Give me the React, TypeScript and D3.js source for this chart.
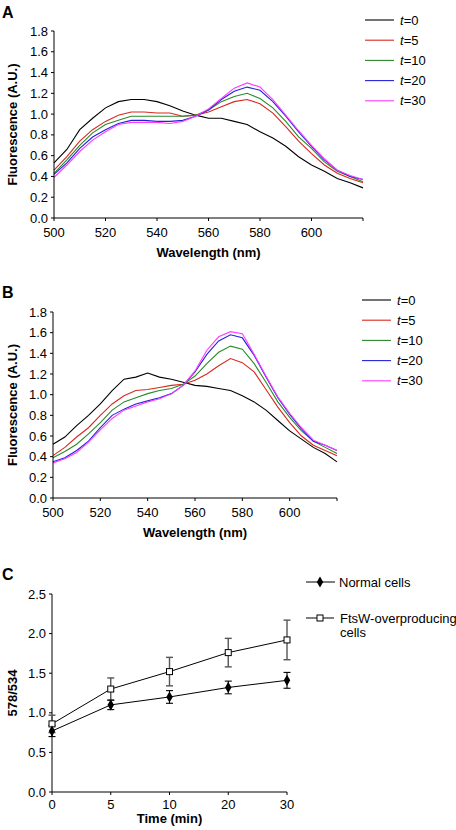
import React from "react";
import * as d3 from "d3";

const wavelengths = [500,505,510,515,520,525,530,535,540,545,550,555,560,565,570,575,580,585,590,595,600,605,610,615,620];

const A_t0 = [0.53,0.66,0.85,0.96,1.06,1.12,1.14,1.14,1.12,1.08,1.03,0.99,0.96,0.96,0.93,0.90,0.83,0.77,0.69,0.59,0.51,0.45,0.38,0.34,0.29];
const A_t5 = [0.46,0.59,0.74,0.85,0.93,0.99,1.02,1.02,1.01,1.01,0.98,0.99,1.02,1.07,1.12,1.14,1.10,1.01,0.88,0.74,0.62,0.51,0.43,0.38,0.34];
const A_t10 = [0.43,0.56,0.70,0.82,0.90,0.94,0.98,0.98,0.98,0.98,0.98,0.99,1.04,1.12,1.17,1.20,1.15,1.06,0.93,0.78,0.67,0.54,0.45,0.40,0.35];
const A_t20 = [0.42,0.53,0.67,0.78,0.85,0.91,0.94,0.94,0.93,0.93,0.94,0.98,1.04,1.14,1.22,1.26,1.23,1.12,0.98,0.83,0.69,0.56,0.46,0.40,0.37];
const A_t30 = [0.39,0.51,0.64,0.75,0.83,0.90,0.92,0.92,0.92,0.91,0.93,0.98,1.05,1.15,1.25,1.30,1.26,1.14,0.99,0.84,0.70,0.57,0.46,0.41,0.37];

const B_t0 = [0.52,0.59,0.70,0.80,0.91,1.04,1.15,1.17,1.21,1.17,1.15,1.12,1.09,1.08,1.06,1.04,0.99,0.93,0.85,0.75,0.65,0.57,0.49,0.43,0.35];
const B_t5 = [0.41,0.49,0.59,0.68,0.80,0.91,0.99,1.04,1.05,1.07,1.09,1.10,1.14,1.20,1.28,1.35,1.31,1.22,1.05,0.88,0.73,0.60,0.51,0.46,0.41];
const B_t10 = [0.39,0.45,0.52,0.62,0.73,0.85,0.93,0.97,1.01,1.04,1.06,1.10,1.18,1.30,1.41,1.47,1.44,1.30,1.12,0.93,0.78,0.65,0.55,0.49,0.43];
const B_t20 = [0.35,0.39,0.46,0.55,0.68,0.80,0.86,0.91,0.94,0.97,1.01,1.09,1.22,1.39,1.52,1.58,1.55,1.38,1.17,0.97,0.81,0.67,0.55,0.51,0.46];
const B_t30 = [0.34,0.38,0.44,0.54,0.66,0.77,0.85,0.89,0.93,0.96,1.01,1.09,1.23,1.43,1.56,1.61,1.59,1.39,1.18,0.98,0.82,0.68,0.56,0.51,0.46];

const seriesLabels = ["0", "5", "10", "20", "30"];
const seriesColors = ["#000000", "#d8281f", "#2a8a2a", "#2222dd", "#ff3cff"];

const wlTicks = [500, 520, 540, 560, 580, 600, 620];
const wlTickLabels = ["500", "520", "540", "560", "580", "600", ""];
const fluorTicks = [0, 0.2, 0.4, 0.6, 0.8, 1.0, 1.2, 1.4, 1.6, 1.8];

const times = ["0", "5", "10", "20", "30"];
const normalMean = [0.77, 1.10, 1.20, 1.32, 1.41];
const normalErr = [0.07, 0.06, 0.08, 0.08, 0.10];
const ftswMean = [0.86, 1.30, 1.52, 1.76, 1.92];
const ftswErr = [0.11, 0.14, 0.18, 0.18, 0.25];
const ratioTicks = [0, 0.5, 1.0, 1.5, 2.0, 2.5];

const FONT = "'Liberation Sans', Arial, Helvetica, sans-serif";
const FS = 13;

type SpecProps = {
  series: number[][];
  x0: number; x1: number; yTop: number; yBot: number;
  legendX: number; legendY: number;
  letter: string; letterY: number;
};

function SpectrumPanel(p: SpecProps) {
  const x = d3.scaleLinear().domain([500, 620]).range([p.x0, p.x1]);
  const y = d3.scaleLinear().domain([0, 1.8]).range([p.yBot, p.yTop]);
  const line = d3.line<number>().x((_, i) => x(wavelengths[i])).y((d) => y(d));
  return (
    <g>
      <text x={2} y={p.letterY} fontFamily={FONT} fontWeight="bold" fontSize={16}>{p.letter}</text>
      {p.series.map((s, i) => (
        <path key={i} d={line(s) || ""} fill="none" stroke={seriesColors[i]} strokeWidth={1.1} />
      ))}
      <line x1={p.x0} x2={p.x0} y1={p.yTop} y2={p.yBot} stroke="#000" strokeWidth={1} />
      <line x1={p.x0} x2={p.x1} y1={p.yBot} y2={p.yBot} stroke="#000" strokeWidth={1} />
      {fluorTicks.map((t) => (
        <g key={t}>
          <line x1={p.x0 - 3} x2={p.x0} y1={y(t)} y2={y(t)} stroke="#000" />
          <text x={p.x0 - 6} y={y(t) + 4.6} textAnchor="end" fontFamily={FONT} fontSize={FS}>{t.toFixed(1)}</text>
        </g>
      ))}
      {wlTicks.map((t, i) => (
        <g key={t}>
          <line x1={x(t)} x2={x(t)} y1={p.yBot} y2={p.yBot + 3} stroke="#000" />
          <text x={x(t)} y={p.yBot + 19} textAnchor="middle" fontFamily={FONT} fontSize={FS}>{wlTickLabels[i]}</text>
        </g>
      ))}
      <text x={(p.x0 + p.x1) / 2} y={p.yBot + 39} textAnchor="middle" fontFamily={FONT} fontWeight="bold" fontSize={FS}>Wavelength (nm)</text>
      <text transform={`translate(16.5,${(p.yTop + p.yBot) / 2}) rotate(-90)`} textAnchor="middle" fontFamily={FONT} fontWeight="bold" fontSize={FS}>Fluorescence (A.U.)</text>
      {seriesLabels.map((l, i) => (
        <g key={l}>
          <line x1={p.legendX} x2={p.legendX + 29} y1={p.legendY + i * 20.2} y2={p.legendY + i * 20.2} stroke={seriesColors[i]} strokeWidth={1.1} />
          <text x={p.legendX + 35} y={p.legendY + i * 20.2 + 4.5} fontFamily={FONT} fontSize={FS}>
            <tspan fontStyle="italic">t</tspan>={l}
          </text>
        </g>
      ))}
    </g>
  );
}

function RatioPanel() {
  const x0 = 52, x1 = 287, yTop = 594, yBot = 792;
  const x = d3.scalePoint<string>().domain(times).range([x0, x1]);
  const y = d3.scaleLinear().domain([0, 2.5]).range([yBot, yTop]);
  const line = d3.line<number>().x((_, i) => x(times[i]) as number).y((d) => y(d));
  const diamond = d3.symbol().type(d3.symbolDiamond).size(36)() || "";
  const capW = 3.5;
  return (
    <g>
      <text x={2} y={580} fontFamily={FONT} fontWeight="bold" fontSize={16}>C</text>
      <line x1={x0} x2={x0} y1={yTop} y2={yBot} stroke="#000" />
      <line x1={x0} x2={x1} y1={yBot} y2={yBot} stroke="#000" />
      {ratioTicks.map((t) => (
        <g key={t}>
          <line x1={x0 - 3} x2={x0} y1={y(t)} y2={y(t)} stroke="#000" />
          <text x={x0 - 6} y={y(t) + 4.6} textAnchor="end" fontFamily={FONT} fontSize={FS}>{t.toFixed(1)}</text>
        </g>
      ))}
      {times.map((t) => (
        <g key={t}>
          <line x1={x(t)} x2={x(t)} y1={yBot} y2={yBot + 3} stroke="#000" />
          <text x={x(t)} y={yBot + 17} textAnchor="middle" fontFamily={FONT} fontSize={FS}>{t}</text>
        </g>
      ))}
      <text x={(x0 + x1) / 2} y={yBot + 31} textAnchor="middle" fontFamily={FONT} fontWeight="bold" fontSize={FS}>Time (min)</text>
      <text transform={`translate(16.5,${(yTop + yBot) / 2}) rotate(-90)`} textAnchor="middle" fontFamily={FONT} fontWeight="bold" fontSize={FS}>578/534</text>

      <path d={line(ftswMean) || ""} fill="none" stroke="#000" strokeWidth={1} />
      <path d={line(normalMean) || ""} fill="none" stroke="#000" strokeWidth={1} />
      {ftswMean.map((m, i) => {
        const cx = x(times[i]) as number;
        return (
          <g key={"f" + i} stroke="#555" strokeWidth={1.4}>
            <line x1={cx} x2={cx} y1={y(m - ftswErr[i])} y2={y(m + ftswErr[i])} />
            <line x1={cx - capW} x2={cx + capW} y1={y(m - ftswErr[i])} y2={y(m - ftswErr[i])} />
            <line x1={cx - capW} x2={cx + capW} y1={y(m + ftswErr[i])} y2={y(m + ftswErr[i])} />
          </g>
        );
      })}
      {normalMean.map((m, i) => {
        const cx = x(times[i]) as number;
        return (
          <g key={"n" + i} stroke="#000" strokeWidth={1.1}>
            <line x1={cx} x2={cx} y1={y(m - normalErr[i])} y2={y(m + normalErr[i])} />
            <line x1={cx - capW} x2={cx + capW} y1={y(m - normalErr[i])} y2={y(m - normalErr[i])} />
            <line x1={cx - capW} x2={cx + capW} y1={y(m + normalErr[i])} y2={y(m + normalErr[i])} />
          </g>
        );
      })}
      {ftswMean.map((m, i) => (
        <rect key={"fs" + i} x={(x(times[i]) as number) - 3} y={y(m) - 3} width={6} height={6} fill="#fff" stroke="#000" strokeWidth={1} />
      ))}
      {normalMean.map((m, i) => (
        <path key={"nd" + i} d={diamond} transform={`translate(${x(times[i])},${y(m)})`} fill="#000" />
      ))}

      <line x1={306} x2={335} y1={582} y2={582} stroke="#000" />
      <path d={diamond} transform="translate(320,582)" fill="#000" />
      <text x={339} y={586.5} fontFamily={FONT} fontSize={FS}>Normal cells</text>
      <line x1={306} x2={334} y1={618} y2={618} stroke="#000" />
      <rect x={317} y={615} width={6} height={6} fill="#fff" stroke="#000" />
      <text x={340} y={622.5} fontFamily={FONT} fontSize={FS}>FtsW-overproducing</text>
      <text x={340} y={637} fontFamily={FONT} fontSize={FS}>cells</text>
    </g>
  );
}

export default function App() {
  return (
    <svg width={456} height={830} style={{ position: "absolute", left: 0, top: 0, background: "#fff" }}>
      <rect width={456} height={830} fill="#fff" />
      <SpectrumPanel series={[A_t0, A_t5, A_t10, A_t20, A_t30]} x0={54} x1={363} yTop={31} yBot={218} legendX={365} legendY={20} letter="A" letterY={18} />
      <SpectrumPanel series={[B_t0, B_t5, B_t10, B_t20, B_t30]} x0={53} x1={337} yTop={312} yBot={498} legendX={362} legendY={300} letter="B" letterY={298} />
      <RatioPanel />
    </svg>
  );
}
